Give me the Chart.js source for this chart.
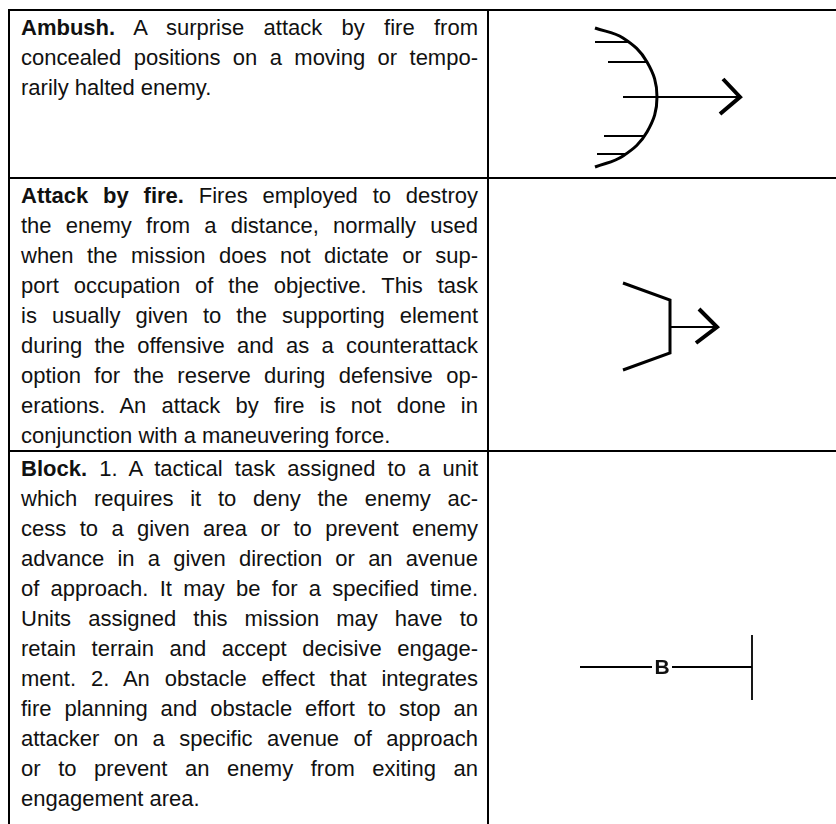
<!DOCTYPE html>
<html>
<head>
<meta charset="utf-8">
<script src="https://cdn.jsdelivr.net/npm/chart.js@4.4.1/dist/chart.umd.min.js"></script>
<style>
  html, body { margin: 0; padding: 0; background: #fff; }
  body { width: 836px; height: 824px; position: relative; overflow: hidden; }
  .tbl {
    position: absolute; left: 8px; top: 9px; width: 900px; height: 900px;
    display: grid; grid-template-columns: 479px 1fr; grid-template-rows: 166px 273px 1fr;
    border-left: 2px solid #000; border-top: 2px solid #000;
    font-family: "Liberation Sans", Arial, sans-serif; font-size: 22px; line-height: 30px; color: #111;
  }
  .txt { border-right: 2px solid #000; padding: 2px 9px 0 11px; box-sizing: border-box; }
  .row2, .row3 { border-top: 2px solid #000; }
  .txt span { display: block; white-space: nowrap; text-align: justify; text-align-last: justify; }
  .txt span.last { text-align-last: left; }
  #symbols { position: absolute; left: 489px; top: 0; }
</style>
</head>
<body>
<div class="tbl">
  <div class="txt">
    <span><b>Ambush.</b> A surprise attack by fire from</span>
    <span>concealed positions on a moving or tempo-</span>
    <span class="last">rarily halted enemy.</span>
  </div>
  <div></div>

  <div class="txt row2">
    <span><b>Attack by fire.</b> Fires employed to destroy</span>
    <span>the enemy from a distance, normally used</span>
    <span>when the mission does not dictate or sup-</span>
    <span>port occupation of the objective. This task</span>
    <span>is usually given to the supporting element</span>
    <span>during the offensive and as a counterattack</span>
    <span>option for the reserve during defensive op-</span>
    <span>erations. An attack by fire is not done in</span>
    <span class="last">conjunction with a maneuvering force.</span>
  </div>
  <div class="row2"></div>

  <div class="txt row3">
    <span><b>Block.</b> 1. A tactical task assigned to a unit</span>
    <span>which requires it to deny the enemy ac-</span>
    <span>cess to a given area or to prevent enemy</span>
    <span>advance in a given direction or an avenue</span>
    <span>of approach. It may be for a specified time.</span>
    <span>Units assigned this mission may have to</span>
    <span>retain terrain and accept decisive engage-</span>
    <span>ment. 2. An obstacle effect that integrates</span>
    <span>fire planning and obstacle effort to stop an</span>
    <span>attacker on a specific avenue of approach</span>
    <span>or to prevent an enemy from exiting an</span>
    <span class="last">engagement area.</span>
  </div>
  <div class="row3"></div>
</div>
<canvas id="symbols" width="347" height="824"></canvas>

<script>
// symbol outlines (page units, y down)
const ambushArc    = [[595,28],[623,38],[647,62],[657,97],[647,132],[623,156],[595,167]];
const ambushHatch1 = [[595,42],[628,42]];
const ambushHatch2 = [[608,62],[647,62]];
const ambushHatch3 = [[604,136],[645,136]];
const ambushHatch4 = [[597,154],[627,154]];
const ambushShaft  = [[623,97],[738,97]];
const ambushHead   = [[723,79],[740,97],[720,114]];

const attackWings  = [[623,283],[670,300],[670,353],[623,370]];
const attackShaft  = [[670,327],[715,327]];
const attackHead   = [[699,309],[717,327],[696,343]];

const blockLeft    = [[580,667],[652,667]];
const blockRight   = [[672,667],[752,667]];
const blockBar     = [[752,635],[752,700]];
const blockLabel   = { text: 'B', x: 662, y: 667 };

const toXY = pts => pts.map(p => ({ x: p[0], y: p[1] }));

function seg(pts, width, tension) {
    return {
        data: toXY(pts),
        showLine: true,
        borderColor: '#000',
        borderWidth: width,
        pointRadius: 0,
        tension: tension || 0,
        borderCapStyle: 'butt',
        borderJoinStyle: 'miter',
        fill: false
    };
}

// writes a text label at a data position
const labelPlugin = {
    id: 'symLabel',
    afterDatasetsDraw(chart, args, opts) {
        (opts.labels || []).forEach(l => {
            const ctx = chart.ctx;
            ctx.save();
            ctx.fillStyle = '#111';
            ctx.font = 'bold 21px "Liberation Sans", Arial, sans-serif';
            ctx.textAlign = 'center';
            ctx.textBaseline = 'middle';
            ctx.fillText(l.text, chart.scales.x.getPixelForValue(l.x), chart.scales.y.getPixelForValue(l.y) + 1);
            ctx.restore();
        });
    }
};

new Chart(document.getElementById('symbols').getContext('2d'), {
    type: 'scatter',
    data: {
        datasets: [
            seg(ambushArc, 3, 0.4),
            seg(ambushHatch1, 2), seg(ambushHatch2, 2), seg(ambushHatch3, 2), seg(ambushHatch4, 2),
            seg(ambushShaft, 1.8),
            seg(ambushHead, 4),
            seg(attackWings, 3),
            seg(attackShaft, 2),
            seg(attackHead, 4),
            seg(blockLeft, 1.8), seg(blockRight, 1.8), seg(blockBar, 1.8)
        ]
    },
    options: {
        responsive: false,
        animation: false,
        events: [],
        layout: { padding: 0 },
        plugins: {
            legend: { display: false },
            tooltip: { enabled: false },
            symLabel: { labels: [blockLabel] }
        },
        scales: {
            x: { display: false, min: 489, max: 836 },
            y: { display: false, min: 0, max: 824, reverse: true }
        }
    },
    plugins: [labelPlugin]
});
</script>
</body>
</html>
